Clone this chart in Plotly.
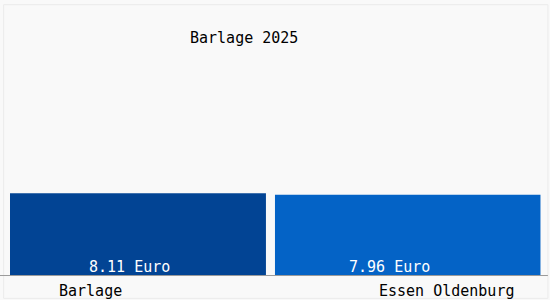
import plotly.graph_objects as go

categories = ["Barlage", "Essen Oldenburg"]
values = [8.11, 7.96]
value_labels = ["8.11 Euro", "7.96 Euro"]
bar_colors = ["#024494", "#0463c6"]
title = "Barlage 2025"

font_family = "DejaVu Sans Mono"

fig = go.Figure()
fig.add_trace(go.Bar(
    x=[0, 1], y=values,
    width=[0.964, 1.0], offset=[-0.5, -0.502],
    marker=dict(color=bar_colors, line=dict(width=0)),
    hoverinfo="skip",
))

# value labels at bar bottoms
label_shifts = [-13, -19]
for i, (t, s) in enumerate(zip(value_labels, label_shifts)):
    fig.add_annotation(x=i, y=0, text=t, showarrow=False, yanchor="bottom",
                       xshift=s, yshift=-3,
                       font=dict(family=font_family, size=15, color="white"))

# category labels
cat_shifts = [-52, 38]
for i, (c, s) in enumerate(zip(categories, cat_shifts)):
    fig.add_annotation(x=i, y=0, text=c, showarrow=False, yanchor="top",
                       xshift=s, yshift=-5,
                       font=dict(family=font_family, size=15, color="black"))

fig.add_annotation(xref="paper", yref="paper", x=0.44, y=1.0, yshift=-39,
                   text=title, showarrow=False, xanchor="center", yanchor="bottom",
                   font=dict(family=font_family, size=15, color="black"))

fig.update_layout(
    width=550, height=300,
    margin=dict(l=10, r=9, t=10, b=25),
    paper_bgcolor="#f9f9f9", plot_bgcolor="#f9f9f9",
    showlegend=False,
    xaxis=dict(range=[-0.5, 1.5], visible=False, showgrid=False, zeroline=False),
    yaxis=dict(range=[0, 26.3], visible=False, showgrid=False, zeroline=False),
)
# baseline across the full width
fig.add_shape(type="line", xref="paper", yref="paper", x0=-0.019, x1=1.013, y0=-0.002, y1=-0.002,
              line=dict(color="#9a9a9a", width=1))
fig.add_shape(type="rect", xref="paper", yref="paper", x0=-0.012, x1=1.013, y0=-0.088, y1=1.02,
              line=dict(color="#ebebeb", width=1), fillcolor="rgba(0,0,0,0)", layer="below")

fig.write_html("out.html")
